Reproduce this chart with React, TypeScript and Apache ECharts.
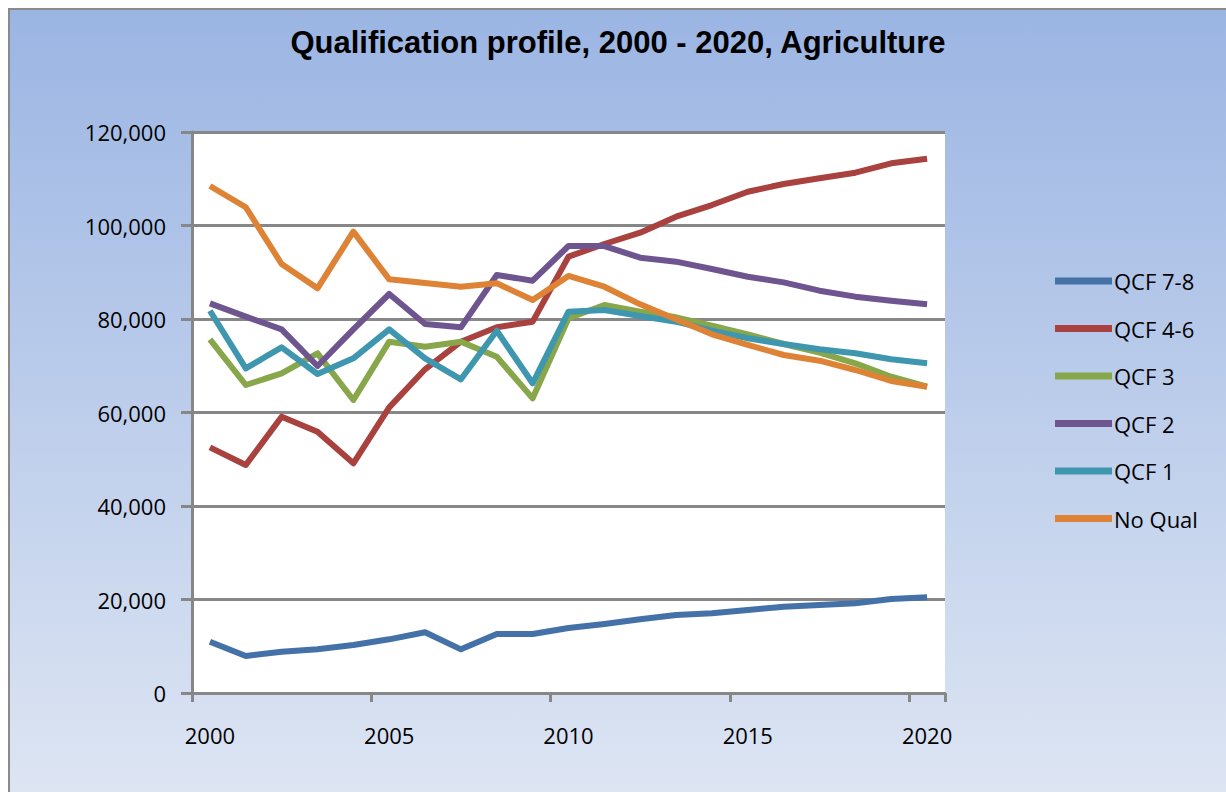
import React, { useEffect, useRef } from "react";
import * as echarts from "echarts";

const years = Array.from({ length: 21 }, (_, i) => String(2000 + i));

const qcf78 = [10970, 7910, 8840, 9340, 10270, 11480, 12980, 9340, 12620, 12620, 13900, 14760, 15760, 16680, 17040, 17750, 18470, 18820, 19180, 20100, 20470];
const qcf46 = [52550, 48770, 59100, 55900, 49130, 61100, 69240, 75150, 78220, 79430, 93330, 96040, 98460, 101880, 104380, 107230, 108880, 110090, 111300, 113300, 114290];
const qcf3 = [75650, 65880, 68380, 72660, 62670, 75150, 74080, 75150, 71930, 63030, 80150, 83000, 81560, 80360, 78570, 76720, 74650, 72790, 70520, 67660, 65520];
const qcf2 = [83350, 80500, 77790, 69950, 77800, 85350, 78930, 78220, 89410, 88200, 95610, 95600, 93120, 92260, 90690, 89050, 87840, 86060, 84780, 83920, 83140];
const qcf1 = [81770, 69450, 73940, 68230, 71590, 77790, 71590, 67100, 77500, 66250, 81560, 81920, 80640, 79420, 77500, 75870, 74650, 73520, 72660, 71380, 70520];
const noQual = [108450, 103900, 91760, 86560, 98680, 88480, 87700, 86900, 87630, 84060, 89200, 86900, 83140, 79930, 76720, 74440, 72300, 71080, 69090, 66740, 65520];

const seriesNames = ["QCF 7-8", "QCF 4-6", "QCF 3", "QCF 2", "QCF 1", "No Qual"];
const seriesData = [qcf78, qcf46, qcf3, qcf2, qcf1, noQual];
const seriesColors = ["#4472A8", "#A9423F", "#88A64A", "#6E5590", "#3F97AF", "#DE8335"];

const titleText = "Qualification profile, 2000 - 2020, Agriculture";

export default function App() {
  const ref = useRef<HTMLDivElement>(null);

  useEffect(() => {
    if (!ref.current) return;
    const chart = echarts.init(ref.current, undefined, { renderer: "svg" });
    const labelFont = "'Open Sans', 'Liberation Sans', sans-serif";
    chart.setOption({
      animation: false,
      backgroundColor: new echarts.graphic.LinearGradient(0, 0, 0, 1, [
        { offset: 0, color: "#9BB5E3" },
        { offset: 1, color: "#DDE5F3" },
      ]),
      title: {
        text: titleText,
        left: "center",
        top: 12,
        textStyle: {
          fontFamily: "'Liberation Sans', Arial, sans-serif",
          fontSize: 31,
          fontWeight: "bold",
          color: "#000",
        },
      },
      legend: {
        orient: "vertical",
        left: 1040,
        top: 255,
        icon: "rect",
        itemWidth: 57,
        itemHeight: 7,
        itemGap: 25.5,
        textStyle: {
          fontFamily: labelFont,
          fontSize: 22,
          color: "#000",
          padding: [0, 0, 0, -3],
        },
        data: seriesNames,
      },
      grid: {
        show: true,
        left: 182,
        top: 122,
        width: 753,
        height: 561,
        backgroundColor: "#ffffff",
        borderWidth: 0,
        containLabel: false,
      },
      xAxis: {
        type: "category",
        data: years,
        boundaryGap: true,
        axisLine: { lineStyle: { color: "#878787", width: 3 } },
        axisTick: {
          show: true,
          interval: 4,
          alignWithLabel: false,
          length: 9,
          lineStyle: { color: "#878787", width: 3 },
        },
        axisLabel: {
          interval: 4,
          margin: 31,
          fontFamily: labelFont,
          fontSize: 22,
          color: "#000",
        },
        splitLine: { show: false },
      },
      yAxis: {
        type: "value",
        min: 0,
        max: 120000,
        interval: 20000,
        axisLine: { show: true, lineStyle: { color: "#878787", width: 3 } },
        axisTick: { show: true, length: 11, lineStyle: { color: "#878787", width: 3 } },
        axisLabel: {
          margin: 26,
          fontFamily: labelFont,
          fontSize: 22,
          color: "#000",
          formatter: (v: number) => v.toLocaleString("en-US"),
        },
        splitLine: { show: true, lineStyle: { color: "#878787", width: 3 } },
      },
      series: seriesNames.map((name, i) => ({
        name,
        type: "line",
        data: seriesData[i],
        showSymbol: false,
        symbol: "none",
        color: seriesColors[i],
        lineStyle: { width: 6, color: seriesColors[i], join: "round" },
      })),
    });
    return () => chart.dispose();
  }, []);

  return (
    <div
      style={{
        position: "fixed",
        left: 8,
        top: 8,
        width: 1218,
        height: 784,
        borderTop: "2px solid #8a8a8a",
        borderLeft: "2px solid #8a8a8a",
        boxSizing: "border-box",
      }}
    >
      <div ref={ref} style={{ width: "100%", height: "100%" }} />
    </div>
  );
}
